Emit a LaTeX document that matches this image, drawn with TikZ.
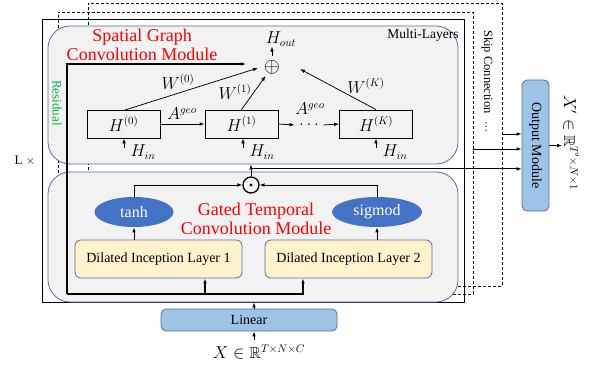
\documentclass[tikz,border=0pt]{standalone}
\usepackage{amsmath,amssymb}
\usepackage{fontspec}
\setmainfont{Liberation Serif}
\usetikzlibrary{arrows.meta,shapes.geometric}
\definecolor{boxblue}{RGB}{84,110,160}
\definecolor{boxgray}{RGB}{242,242,242}
\definecolor{dilfill}{RGB}{255,242,204}
\definecolor{lightblue}{RGB}{157,195,230}
\definecolor{gateblue}{RGB}{68,114,196}
\definecolor{resgreen}{RGB}{0,176,80}
\newcommand{\fsz}[1]{\fontsize{#1}{#1}\selectfont}
\begin{document}
\begin{tikzpicture}[x=1pt,y=-1pt,>={Latex[length=5pt,width=3.6pt]},line width=0.75pt,
  modbox/.style={draw=boxblue,fill=boxgray,rounded corners=22pt,line width=0.8pt,minimum width=410,inner sep=0},
  dashbox/.style={draw,dash pattern=on 3pt off 2pt,line width=0.7pt,inner sep=0},
  hbox/.style={draw,line width=0.8pt,minimum width=73,minimum height=28,inner sep=0,font=\fsz{16}},
  dilbox/.style={draw=boxblue,fill=dilfill,rounded corners=6pt,line width=0.8pt,minimum width=167,minimum height=38,inner sep=0,font=\fsz{14}},
  gate/.style={ellipse,fill=gateblue,text=white,inner sep=0,minimum height=30,font=\fsz{16}},
  bluebox/.style={draw=boxblue,fill=lightblue,rounded corners=5pt,line width=0.8pt,inner sep=0,font=\fsz{14}},
  redtitle/.style={text=red,font=\fontsize{18}{19}\selectfont,align=center},
  mlabel/.style={font=\fsz{16},inner sep=0},
  res/.style={line width=1.1pt}]
\useasboundingbox (0,0) rectangle (594,366);
% dashed and solid frames
\node[dashbox,minimum width=414,minimum height=283] (dash2) at (295,144.5) {};
\node[dashbox,minimum width=415,minimum height=282] (dash1) at (265.5,153) {};
\node[draw,line width=0.8pt,minimum width=422,minimum height=283,inner sep=0] (outer) at (253,160.5) {};
% module boxes
\node[modbox,minimum height=138] (sgc) at (253,95) {};
\node[modbox,minimum height=130] (gtc) at (253,237) {};
% titles
\node[redtitle] (sgct) at (142,45) {Spatial Graph\\Convolution Module};
\node[redtitle] (gtct) at (256,219) {Gated Temporal\\Convolution Module};
\node[font=\fsz{13.5},inner sep=0] (ml) at (423,35) {Multi-Layers};
\node[font=\fsz{13},text=resgreen,rotate=-90,inner sep=0] (reslbl) at (57,103) {Residual};
\node[font=\fsz{13},inner sep=0] (lx) at (25,161) {L $\times$};
\node[font=\fsz{12.5},rotate=-90,inner sep=0] (skip) at (487,72) {Skip Connection};
\node[font=\fsz{11},rotate=-90,inner sep=0] (skipdots) at (486,127) {\ldots};
% spatial graph content
\node[hbox] (h0) at (123.5,124) {$H^{(0)}$};
\node[hbox] (h1) at (241.5,124) {$H^{(1)}$};
\node[hbox] (hk) at (376,124) {$H^{(K)}$};
\node[circle,inner sep=0,minimum size=15,font=\fsz{22}] (oplus) at (272,67) {$\oplus$};
\node[mlabel] (hout) at (281,39) {$H_{out}$};
\node[mlabel] (ag1) at (182,114) {$A^{geo}$};
\node[mlabel] (ag2) at (310,109) {$A^{geo}$};
\node[mlabel,minimum width=28,text height=1.5pt,text depth=0pt] (dots) at (309,125) {$\ldots$};
\node[mlabel] (w0) at (178,82) {$W^{(0)}$};
\node[mlabel] (w1) at (235,92) {$W^{(1)}$};
\node[mlabel] (wk) at (366,86) {$W^{(K)}$};
\node[mlabel] (hin0) at (143,152) {$H_{in}$};
\node[mlabel] (hin1) at (262,152) {$H_{in}$};
\node[mlabel] (hink) at (395,152) {$H_{in}$};
\coordinate (hin0a) at (124,148);
\coordinate (hin1a) at (243,148);
\coordinate (hinka) at (376,148);
\coordinate (h0top) at (125,110);
\coordinate (w0end) at (258,68);
\coordinate (wkend) at (300,69);
\coordinate (resend) at (246,64);
\draw[->] (h0.east) -- (h1.west);
\draw[->] (h1.east) -- (dots.west);
\draw[->] (dots.east) -- (hk.west);
\draw[->] (h0top) -- (w0end);
\draw[->] (h1.north) -- (oplus);
\draw[->] (hk.north) -- (wkend);
\draw[->] (oplus.north) -- (oplus.north |- hout.south);
\draw[->] (hin0a) -- (hin0a |- h0.south);
\draw[->] (hin1a) -- (hin1a |- h1.south);
\draw[->] (hinka) -- (hinka |- hk.south);
% gated temporal content
\node[dilbox] (dil1) at (158.5,259) {Dilated Inception Layer 1};
\node[dilbox] (dil2) at (348.5,259) {Dilated Inception Layer 2};
\node[gate,minimum width=79] (tanh) at (134,212) {tanh};
\node[gate,minimum width=90] (sig) at (377,212) {sigmod};
\node[circle,draw,line width=1.3pt,minimum size=16,inner sep=0] (odot) at (251,185) {};
\fill (odot.center) circle (1.7);
\draw[->] (tanh.south |- dil1.north) -- (tanh.south);
\draw[->] (sig.south |- dil2.north) -- (sig.south);
\draw[->] (tanh.north) |- (odot.west);
\draw[->] (sig.north) |- (odot.east);
\draw[->] (odot.north) -- (odot.north |- sgc.south);
% residual and input lines
\coordinate (resL) at (67,294);
\coordinate (resR) at (303,294);
\coordinate (d1in) at (205,294);
\draw[res,->] (resL) |- (resend);
\draw[res,->] (resL) -- (resR) -- (resR |- dil2.south);
\draw[res,->] (d1in) -- (d1in |- dil1.south);
\node[bluebox,minimum width=176,minimum height=22] (linear) at (249,320) {Linear};
\node[font=\fsz{16},inner sep=0] (xin) at (259,352) {$X \in \mathbb{R}^{T\times N\times C}$};
\coordinate (xa) at (254,340);
\draw[->] (xa) -- (xa |- linear.south);
\draw[->] (xa |- linear.north) -- (xa |- gtc.south);
% output module
\node[bluebox,minimum width=27,minimum height=131] (om) at (535.5,145.5) {};
\node[font=\fsz{14},rotate=-90,inner sep=0] (omt) at (om.center) {Output Module};
\coordinate (sk2) at (502,134);
\coordinate (sk1) at (473,149);
\path (odot.north) ++(0,-7.5) coordinate (sk0);
\draw[->] (sk2) -- (sk2 -| om.west);
\draw[->] (sk1) -- (sk1 -| om.west);
\draw[->] (sk0) -- (sk0 -| om.west);
\coordinate (xout) at (562,145.5);
\draw[->] (om.east |- xout) -- (xout);
\node[font=\fsz{16},rotate=-90,inner sep=0,anchor=south] (xo) at (563,143) {$X' \in \mathbb{R}^{T'\times N\times 1}$};
\end{tikzpicture}
\end{document}
